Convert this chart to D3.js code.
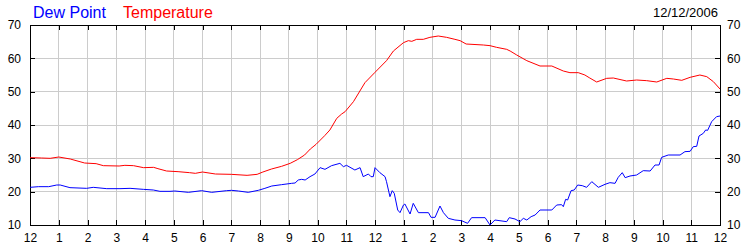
<!DOCTYPE html>
<html>
<head>
<meta charset="utf-8">
<script src="https://cdn.jsdelivr.net/npm/d3@7"></script>
<style>
  body { margin: 0; background: #fff; }
  svg text { font-family: "Liberation Sans", Arial, sans-serif; }
</style>
</head>
<body>
<svg id="chart"></svg>
<script>
const width = 750;
const height = 250;

// hour ticks 0..24, labelled on a 12-hour clock
const hourTicks = d3.range(0, 25);
const hourLabels = ['12', '1', '2', '3', '4', '5', '6', '7', '8', '9', '10', '11',
                    '12', '1', '2', '3', '4', '5', '6', '7', '8', '9', '10', '11', '12'];
const valueTicks = [10, 20, 30, 40, 50, 60, 70];

// temperature readings: [hour, degF]
const temperature = [
  [0, 30.2], [0.4, 30.1], [0.7, 30.0], [1.0, 30.4], [1.4, 29.8], [1.9, 28.6], [2.3, 28.4],
  [2.55, 27.8], [3.1, 27.7], [3.3, 27.9], [3.6, 27.8], [3.95, 27.2], [4.3, 27.3], [4.45, 26.9],
  [4.75, 26.2], [5.15, 26.0], [5.55, 25.7], [5.75, 25.5], [6.0, 25.9], [6.45, 25.3], [7.0, 25.2],
  [7.55, 24.9], [7.9, 25.2], [8.1, 25.9], [8.4, 26.8], [8.75, 27.6], [9.05, 28.5], [9.3, 29.6],
  [9.55, 31.0], [9.75, 32.8], [9.95, 34.2], [10.25, 36.8], [10.43, 38.5], [10.67, 42.0],
  [10.84, 43.3], [10.96, 44.0], [11.25, 47.0], [11.65, 52.7], [12.0, 55.8], [12.4, 59.3],
  [12.64, 62.2], [12.99, 64.7], [13.16, 65.3], [13.28, 65.1], [13.45, 65.7], [13.68, 65.7],
  [13.91, 66.3], [14.2, 66.7], [14.49, 66.3], [14.78, 65.7], [14.96, 65.3], [15.17, 64.3],
  [15.77, 64.0], [16.0, 63.8], [16.23, 63.3], [16.58, 62.7], [16.7, 62.2], [16.93, 61.0],
  [17.28, 59.3], [17.74, 57.7], [18.15, 57.7], [18.55, 56.2], [18.78, 55.7], [19.07, 55.7],
  [19.3, 55.0], [19.45, 54.2], [19.71, 52.9], [20.06, 54.0], [20.29, 54.1], [20.75, 53.2],
  [21.1, 53.5], [21.45, 53.3], [21.8, 52.9], [22.15, 54.0], [22.38, 53.8], [22.67, 53.4],
  [22.96, 54.3], [23.3, 55.0], [23.54, 54.5], [23.77, 53.0], [24.0, 50.8]
];

// dew point readings: [hour, degF]
const dewPoint = [
  [0, 21.3], [0.3, 21.5], [0.65, 21.5], [0.93, 22.0], [1.05, 22.0], [1.39, 21.2], [1.97, 21.0],
  [2.2, 21.3], [2.67, 20.9], [3.13, 20.9], [3.48, 21.0], [3.94, 20.7], [4.29, 20.5], [4.52, 20.1],
  [4.87, 20.1], [5.04, 20.2], [5.51, 19.8], [5.97, 20.3], [6.32, 19.8], [6.84, 20.3], [7.01, 20.4],
  [7.25, 20.2], [7.59, 19.8], [7.94, 20.4], [8.17, 21.0], [8.41, 21.7], [8.75, 22.1], [9.1, 22.5],
  [9.22, 22.6], [9.33, 23.5], [9.45, 23.7], [9.57, 23.5], [9.74, 24.5], [9.91, 25.3], [10.09, 27.2],
  [10.26, 26.7], [10.49, 27.8], [10.78, 28.5], [10.9, 27.5], [11.01, 27.9], [11.3, 26.5],
  [11.48, 27.2], [11.59, 24.5], [11.77, 25.3], [11.86, 24.5], [11.94, 24.5], [12.0, 27.2],
  [12.17, 25.7], [12.35, 24.5], [12.4, 23.0], [12.52, 18.5], [12.6, 20.3], [12.67, 19.5],
  [12.79, 14.5], [12.87, 13.7], [12.99, 16.0], [13.04, 16.3], [13.22, 13.3], [13.33, 16.5],
  [13.51, 13.7], [13.86, 13.7], [13.95, 12.3], [14.09, 12.3], [14.26, 15.7], [14.38, 13.7],
  [14.55, 12.0], [14.78, 11.5], [15.01, 11.3], [15.22, 10.5], [15.36, 12.2], [15.83, 12.2],
  [16.0, 10.0], [16.17, 11.5], [16.58, 11.0], [16.67, 12.2], [16.87, 11.8], [17.04, 11.0],
  [17.16, 12.0], [17.28, 11.5], [17.43, 12.5], [17.57, 13.0], [17.74, 14.5], [18.15, 14.5],
  [18.32, 16.0], [18.49, 16.1], [18.55, 15.5], [18.63, 17.7], [18.7, 17.5], [18.82, 20.3],
  [18.93, 20.5], [19.05, 22.0], [19.21, 21.8], [19.36, 21.3], [19.54, 23.0], [19.77, 21.3],
  [20.0, 22.2], [20.17, 22.7], [20.35, 22.5], [20.46, 24.3], [20.6, 25.7], [20.7, 24.2],
  [20.87, 24.7], [21.1, 25.0], [21.33, 26.3], [21.57, 26.2], [21.74, 28.0], [21.88, 28.0],
  [21.97, 30.3], [22.2, 31.0], [22.61, 31.0], [22.78, 32.0], [22.96, 32.1], [23.07, 33.5],
  [23.19, 33.6], [23.27, 36.7], [23.42, 37.5], [23.5, 38.5], [23.57, 38.4], [23.71, 41.0],
  [23.88, 42.5], [24.0, 42.7]
];

const margin = { top: 25, right: 30, bottom: 25, left: 30 };

const svg = d3.select('#chart')
  .attr('width', width)
  .attr('height', height);

const x = d3.scaleLinear()
  .domain([0, 24])
  .range([margin.left, width - margin.right]);
const y = d3.scaleLinear()
  .domain([10, 70])
  .range([height - margin.bottom, margin.top]);

// grid
const grid = svg.append('g')
  .attr('stroke', '#cccccc')
  .attr('stroke-width', 1)
  .attr('shape-rendering', 'crispEdges');
grid.selectAll('.vgrid')
  .data(hourTicks.slice(1, -1))
  .enter()
    .append('line')
    .attr('x1', d => x(d))
    .attr('x2', d => x(d))
    .attr('y1', y(70))
    .attr('y2', y(10));
grid.selectAll('.hgrid')
  .data(valueTicks.slice(1, -1))
  .enter()
    .append('line')
    .attr('x1', x(0))
    .attr('x2', x(24))
    .attr('y1', d => y(d))
    .attr('y2', d => y(d));

// axes with inward ticks
const fmtHour = (d, i) => hourLabels[d];
svg.append('g')
  .attr('transform', `translate(0,${y(10)})`)
  .call(d3.axisBottom(x).tickValues(hourTicks).tickSizeInner(-5).tickSizeOuter(0)
    .tickPadding(8).tickFormat(fmtHour));
svg.append('g')
  .attr('transform', `translate(0,${y(70)})`)
  .call(d3.axisTop(x).tickValues(hourTicks).tickSizeInner(-5).tickSizeOuter(0)
    .tickFormat(''));
svg.append('g')
  .attr('transform', `translate(${x(0)},0)`)
  .call(d3.axisLeft(y).tickValues(valueTicks).tickSizeInner(-5).tickSizeOuter(0)
    .tickPadding(9));
svg.append('g')
  .attr('transform', `translate(${x(24)},0)`)
  .call(d3.axisRight(y).tickValues(valueTicks).tickSizeInner(-5).tickSizeOuter(0)
    .tickPadding(7));

svg.selectAll('.domain, .tick line')
  .attr('stroke', '#000')
  .attr('shape-rendering', 'crispEdges');
svg.selectAll('.tick text')
  .attr('font-family', '"Liberation Sans", Arial, sans-serif')
  .attr('font-size', 12)
  .attr('fill', '#000');

// series
const line = d3.line()
  .x(d => x(d[0]))
  .y(d => y(d[1]));

svg.append('path')
  .datum(temperature)
  .attr('fill', 'none')
  .attr('stroke', '#ff0000')
  .attr('stroke-width', 1)
  .attr('d', line);

svg.append('path')
  .datum(dewPoint)
  .attr('fill', 'none')
  .attr('stroke', '#0000ff')
  .attr('stroke-width', 1)
  .attr('d', line);

// legend and date
svg.append('text')
  .attr('x', 33)
  .attr('y', 18)
  .attr('font-size', 16)
  .attr('fill', '#0000ff')
  .text('Dew Point');
svg.append('text')
  .attr('x', 123)
  .attr('y', 18)
  .attr('font-size', 16)
  .attr('fill', '#ff0000')
  .text('Temperature');
svg.append('text')
  .attr('x', 718)
  .attr('y', 17)
  .attr('text-anchor', 'end')
  .attr('font-size', 13)
  .attr('fill', '#000')
  .text('12/12/2006');
</script>
</body>
</html>
